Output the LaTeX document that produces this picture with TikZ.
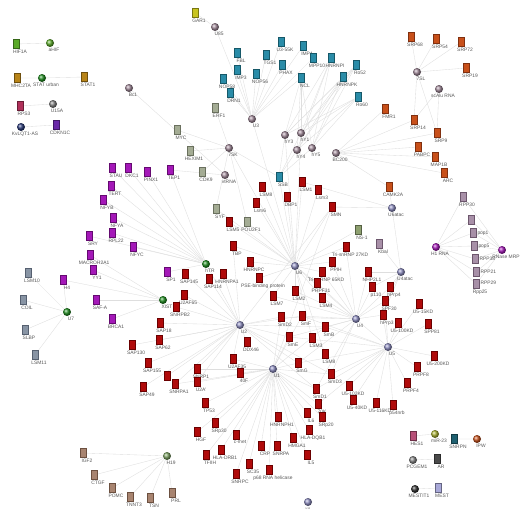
\documentclass[tikz,border=0pt]{standalone}
\usepackage{fontspec}
\setmainfont{Liberation Sans}
\usetikzlibrary{backgrounds}
\definecolor{cRed}{HTML}{B00A0A}\definecolor{cRedD}{HTML}{6A0000}
\definecolor{cCyan}{HTML}{2A8CA8}\definecolor{cCyanD}{HTML}{165868}
\definecolor{cMag}{HTML}{A418B8}\definecolor{cMagD}{HTML}{640A70}
\definecolor{cOra}{HTML}{C8501A}\definecolor{cOraD}{HTML}{803010}
\definecolor{cSage}{HTML}{A4AC94}\definecolor{cSageD}{HTML}{6A705E}
\definecolor{cSteel}{HTML}{8894A4}\definecolor{cSteelD}{HTML}{566070}
\definecolor{cMauve}{HTML}{A890A8}\definecolor{cMauveD}{HTML}{6C566C}
\definecolor{cBrown}{HTML}{A88470}\definecolor{cBrownD}{HTML}{6C5040}
\definecolor{cLav}{HTML}{8C8CC0}\definecolor{cPG}{HTML}{A08898}
\definecolor{cGreen}{HTML}{1E8C1E}\definecolor{cLGreen}{HTML}{5AAA28}
\definecolor{cGold}{HTML}{B88418}\definecolor{cCrim}{HTML}{B0305A}
\definecolor{cPurp}{HTML}{6A28A8}\definecolor{cNavy}{HTML}{283878}
\definecolor{cYel}{HTML}{C8C420}\definecolor{cOlive}{HTML}{A8B030}
\definecolor{cTeal}{HTML}{1E6070}\definecolor{cH19}{HTML}{7AA060}
\definecolor{cNS}{HTML}{8EA070}\definecolor{cHes}{HTML}{B85078}
\definecolor{cDark}{HTML}{4A4A4A}\definecolor{cMest}{HTML}{A8A8D8}
\definecolor{cGray}{HTML}{808080}\definecolor{cBlk}{HTML}{303030}
\tikzset{
 edge/.style={draw=black!13, line width=0.35pt},
 lbl/.style={font=\fontsize{4.9}{5.3}\selectfont, text=black!65, inner sep=0.3pt, xshift=4pt},
 lblr/.style={font=\fontsize{4.9}{5.3}\selectfont, text=black!65, inner sep=0.3pt},
 sqbase/.style={rectangle, minimum width=6.5pt, minimum height=9pt, inner sep=0pt, line width=0.3pt},
 cibase/.style={circle, minimum size=8pt, inner sep=0pt},
 rsq/.style={sqbase, fill=cRed, draw=cRedD},
 csq/.style={sqbase, fill=cCyan, draw=cCyanD},
 msq/.style={sqbase, fill=cMag, draw=cMagD},
 osq/.style={sqbase, fill=cOra, draw=cOraD},
 gsq/.style={sqbase, fill=cSage, draw=cSageD},
 ssq/.style={sqbase, fill=cSteel, draw=cSteelD},
 vsq/.style={sqbase, fill=cMauve, draw=cMauveD},
 bsq/.style={sqbase, fill=cBrown, draw=cBrownD},
 xsq/.style={sqbase, fill=#1, draw=#1!60!black},
 hub/.style={cibase, ball color=cLav},
 pgc/.style={cibase, ball color=cPG},
 xci/.style={cibase, ball color=#1},
 every label/.style={label distance=0.6pt}
}
\newcommand{\nd}[4]{\node[#1,label={[lbl]below:#4}] (#2) at (#3) {};}
\newcommand{\ndr}[4]{\node[#1,label={[lblr]right:#4}] (#2) at (#3) {};}
\begin{document}
\begin{tikzpicture}[x=1pt,y=-1pt]
\useasboundingbox (0,0) rectangle (531,514);
% isolated pairs
\nd{xsq=cLGreen}{hifa}{16,44}{HIF1A}
\nd{xci=cLGreen}{ahif}{50,43}{aHIF}
\nd{xsq=cGold}{mhc}{17,78}{MHC2TA}
\nd{xci=cGreen}{staturb}{42,78}{STAT urban}
\nd{xsq=cGold}{stat1}{84,77}{STAT1}
\nd{xsq=cCrim}{rps3}{20,106}{RPS3}
\nd{xci=cGray}{u15a}{53,104}{U15A}
\nd{xci=cNavy}{kvlqt}{21,127}{KvLQT1-AS}
\nd{xsq=cPurp}{cdkn}{56,125}{CDKN1C}
% top
\nd{xsq=cYel}{gar1}{195,13}{GAR1}
\nd{pgc}{u85}{215,27}{U85}
\nd{pgc}{bc1}{129,88}{Bc1}
% U3 group
\nd{pgc}{u3}{252,119}{U3}
\nd{csq}{fbl}{237,53}{FBL}
\nd{csq}{imp3}{237,70}{IMP3}
\nd{csq}{nop56}{256,74}{NOP56}
\nd{csq}{tgs1}{266,55}{TGS1}
\nd{csq}{u355k}{281,42}{U3-55K}
\nd{csq}{phax}{282,65}{PHAX}
\nd{csq}{imp4}{303,46}{IMP4}
\nd{csq}{mpp10}{313,58}{MPP10}
\nd{csq}{hnrnpi}{331,58}{HNRNPI}
\nd{csq}{ro52}{356,65}{Ro52}
\nd{csq}{hnrnpk}{343,77}{HNRNPK}
\nd{csq}{ro60}{358,97}{Ro60}
\nd{csq}{ncl}{301,78}{NCL}
\nd{csq}{nop58}{223,79}{NOP58}
\nd{csq}{drn1}{230,93}{DRN1}
\nd{gsq}{erf1}{215,108}{ERF1}
% hY
\nd{pgc}{hy3}{285,135}{hY3}
\nd{pgc}{hy1}{301,133}{hY1}
\nd{pgc}{hy4}{297,150}{hY4}
\nd{pgc}{hy5}{312,148}{hY5}
\nd{csq}{ssb}{279,177}{SSB}
% 7SK / vault
\nd{gsq}{myc}{177,130}{MYC}
\nd{gsq}{hexim}{190,151}{HEXIM1}
\nd{gsq}{cdk9}{202,172}{CDK9}
\nd{pgc}{sk7}{229,148}{7SK}
\nd{pgc}{vtrna}{225,175}{vtRNA}
\nd{msq}{tep1}{170,170}{TEP1}
% SRP
\nd{pgc}{sl7}{417,72}{7SL}
\nd{osq}{srp68}{411,37}{SRP68}
\nd{osq}{srp54}{436,39}{SRP54}
\nd{osq}{srp72}{461,42}{SRP72}
\nd{osq}{srp19}{466,68}{SRP19}
\nd{pgc}{alu}{439,89}{scAlu RNA}
\nd{osq}{fmr1}{385,109}{FMR1}
\nd{osq}{srp14}{414,120}{SRP14}
\nd{osq}{srp9}{437,133}{SRP9}
\nd{osq}{pabpc}{418,147}{PABPC}
\nd{osq}{map1b}{435,157}{MAP1B}
\nd{osq}{arc}{444,173}{ARC}
\nd{pgc}{bc200}{336,153}{BC200}
\nd{osq}{camk}{389,187}{CAMK2A}
\nd{hub}{u6atac}{392,208}{U6atac}
\nd{hub}{u4atac}{401,272}{U4atac}
\nd{xsq=cNS}{ns1}{358,230}{NS-1}
\nd{vsq}{kbal}{379,244}{Kbal}
% RNase P / MRP
\nd{vsq}{rpp30}{463,197}{RPP30}
\node[vsq] (rpp40) at (471,220) {};
\ndr{vsq}{pop1}{473,233}{pop1}
\ndr{vsq}{pop5}{474,246}{pop5}
\ndr{vsq}{rpp38}{475,259}{RPP38}
\ndr{vsq}{rpp21}{476,272}{RPP21}
\nd{vsq}{rpp29}{476,284}{Rpp25}
\node[lblr,anchor=west] (rpp29l) at (480,283) {RPP29};
\nd{xci=cMag}{h1rna}{436,247}{H1 RNA}
\nd{xci=cMag}{rmrp}{502,250}{RNase MRP}
% hTR / XIST
\nd{xci=cGreen}{terc}{206,264}{hTR}
\nd{msq}{stau}{112,168}{STAU}
\nd{msq}{dkc1}{128,168}{DKC1}
\nd{msq}{pinx1}{147,172}{PINX1}
\nd{msq}{tert}{111,186}{TERT}
\nd{msq}{nfyb}{103,200}{NFYB}
\nd{msq}{nfya}{113,218}{NFYA}
\nd{msq}{sry}{89,236}{SRY}
\nd{msq}{rpl22}{112,233}{RPL22}
\nd{msq}{nfyc}{133,247}{NFYC}
\nd{msq}{macro}{90,255}{MACROH2A1}
\nd{msq}{yy1}{93,270}{YY1}
\nd{msq}{sp1}{167,272}{SP1}
\nd{msq}{safa}{96,300}{SAF-A}
\nd{msq}{brca1}{112,319}{BRCA1}
\nd{msq}{h4}{63,280}{H4}
\nd{xci=cGreen}{xist}{163,300}{XIST}
% U7
\nd{xci=cGreen}{u7}{67,312}{U7}
\nd{ssq}{lsm10}{28,273}{LSM10}
\nd{ssq}{coil}{23,300}{COIL}
\nd{ssq}{slbp}{25,330}{SLBP}
\nd{ssq}{lsm11}{35,355}{LSM11}
% hubs
\nd{hub}{u1}{273,369}{U1}
\nd{hub}{u2}{240,325}{U2}
\nd{hub}{u6}{295,266}{U6}
\nd{hub}{u4}{356,319}{U4}
\nd{hub}{u5}{388,347}{U5}
\nd{xci=cH19}{h19}{167,456}{H19}
% red near U6
\nd{rsq}{lsma}{262,187}{LSM8}
\nd{rsq}{dbp1}{287,197}{DBP1}
\nd{rsq}{lsm1}{302,182}{LSM1}
\nd{rsq}{lsmb}{318,190}{Lsm3}
\nd{rsq}{smn}{332,207}{SMN}
\nd{rsq}{lsmc}{256,203}{Lsm6}
\nd{gsq}{syf}{216,209}{SYF}
\nd{rsq}{lsm5}{229,222}{LSM5}
\nd{gsq}{pou2f1}{247,222}{POU2F1}
\nd{rsq}{tbp}{233,246}{TBP}
\nd{rsq}{hnrnpc}{250,262}{HNRNPC}
\nd{rsq}{sap145}{185,274}{SAP145}
\nd{rsq}{sap114}{209,279}{SAP114}
\nd{rsq}{hnrnpa1}{223,274}{HNRNPA1}
\nd{rsq}{pse}{259,278}{PSE-binding protein}
\nd{rsq}{u2af65}{184,295}{U2AF65}
\nd{rsq}{snrpb2}{176,307}{SNRPB2}
\nd{rsq}{lsm7}{273,296}{LSM7}
\nd{rsq}{lsm2}{295,291}{LSM2}
\nd{rsq}{smd2}{281,317}{SmD2}
\nd{rsq}{smf}{302,316}{SmF}
\nd{rsq}{ddx46}{247,342}{DDX46}
\nd{rsq}{sme}{289,337}{SmE}
\nd{rsq}{lsm3}{312,338}{LSM3}
\nd{rsq}{lsm8}{325,354}{LSM8}
\nd{rsq}{smg}{298,363}{SmG}
\nd{rsq}{u2af35}{233,359}{U2AF35}
\nd{rsq}{ppih}{332,262}{PPIH}
\nd{rsq}{tri65}{322,272}{Tri-snRNP 65KD}
\nd{rsq}{prpf31}{317,283}{PRPF31}
\nd{rsq}{lsm4}{322,298}{LSM4}
\nd{rsq}{smb}{325,327}{SmB}
\nd{rsq}{sap18}{160,323}{SAP18}
\nd{rsq}{sap62}{159,340}{SAP62}
\nd{rsq}{sap130}{132,345}{SAP130}
\nd{rsq}{sap155}{148,363}{SAP155}
\node[rsq] (sapx) at (167,376) {};
\nd{rsq}{snrpa1}{175,384}{SNRPA1}
\nd{rsq}{sap49}{143,387}{SAP49}
\nd{rsq}{snrpb}{197,369}{SNRP1}
\nd{rsq}{u2a}{197,382}{U2A'}
\nd{rsq}{f40}{240,373}{40F}
% U4/U5
\nd{rsq}{tri27}{346,247}{Tri-snRNP 27KD}
\nd{rsq}{nhp}{368,272}{NHP2L1}
\nd{rsq}{p110}{372,287}{p110}
\nd{rsq}{hprp4}{390,287}{hPrp4}
\nd{rsq}{spf30}{385,301}{SPF30}
\nd{rsq}{hprp3}{383,315}{hPrp3}
\nd{rsq}{u5100}{398,323}{U5-100KD}
\nd{rsq}{u515}{419,304}{U5-15KD}
\nd{rsq}{spp81}{428,324}{SPP81}
\nd{rsq}{u5200}{434,356}{U5-200KD}
\nd{rsq}{prpf8}{417,367}{PRPF8}
\nd{rsq}{prpf4}{407,383}{PRPF4}
\nd{rsq}{u5102}{349,386}{U5-102KD}
\nd{rsq}{u540}{353,400}{U5-40KD}
\nd{rsq}{u5116}{376,403}{U5-116KD}
\nd{rsq}{p54}{393,405}{p54nrb}
% U1 bottom
\nd{rsq}{tp53}{205,403}{TP53}
\nd{rsq}{srp30}{215,423}{SRp30}
\nd{rsq}{hgf}{197,432}{HGF}
\nd{rsq}{cmet}{236,435}{c-met}
\nd{rsq}{tfiih}{206,455}{TFIIH}
\nd{rsq}{hladrb1}{221,450}{HLA-DRB1}
\nd{rsq}{sc35}{249,464}{SC35}
\nd{rsq}{snrpc}{236,474}{SNRPC}
\nd{rsq}{crp}{261,446}{CRP}
\nd{rsq}{snrpa}{277,446}{SNRPA}
\nd{rsq}{p68}{269,470}{p68 RNA helicase}
\nd{rsq}{hnrnph1}{278,417}{HNRNPH1}
\nd{rsq}{hmga1}{293,438}{HMGA1}
\nd{rsq}{il5}{307,455}{IL5}
\nd{rsq}{il6}{307,413}{IL6}
\nd{rsq}{hladqb1}{309,430}{HLA-DQB1}
\nd{rsq}{smd1}{316,389}{SmD1}
\nd{rsq}{k70}{318,404}{70K}
\nd{rsq}{srp20}{322,417}{SRp20}
\nd{rsq}{smd3}{331,374}{SmD3}
\node[xci=cLav,label={[lblr,font=\fontsize{2.5}{3}\selectfont]below:U12}] (u12) at (308,502) {};
% H19 partners
\nd{bsq}{igf2}{83,453}{IGF2}
\nd{bsq}{ctgf}{94,475}{CTGF}
\nd{bsq}{pomc}{112,488}{POMC}
\nd{bsq}{tnnt3}{130,497}{TNNT3}
\nd{bsq}{tsn}{150,498}{TSN}
\nd{bsq}{prl}{172,493}{PRL}
% bottom right pairs
\nd{xsq=cHes}{hes1}{413,436}{HES1}
\nd{xci=cOlive}{mir23}{435,434}{miR-23}
\nd{xsq=cTeal}{snrpn}{454,439}{SNRPN}
\nd{xci=cOra}{ipw}{477,439}{IPW}
\nd{xci=cGray}{pcgem}{413,460}{PCGEM1}
\nd{xsq=cDark}{ar}{437,459}{AR}
\nd{xci=cBlk}{mestit}{415,489}{MESTIT1}
\nd{xsq=cMest}{mest}{438,488}{MEST}

\begin{scope}[on background layer]
\fill[white] (0,0) rectangle (531,514);
\draw[edge] (hifa)--(ahif) (mhc)--(staturb)--(stat1) (rps3)--(u15a) (kvlqt)--(cdkn);
\draw[edge] (gar1)--(u85) (u85)--(u3) (bc1)--(vtrna);
\foreach \t in {fbl,imp3,nop56,tgs1,u355k,phax,imp4,mpp10,nop58,drn1,ncl} \draw[edge] (u3)--(\t);
\foreach \h in {hy1,hy3,hy4,hy5} {\foreach \t in {ro60,ro52,hnrnpk,hnrnpi,ncl,ssb} \draw[edge] (\h)--(\t);}
\foreach \t in {myc,hexim,cdk9,erf1,syf,pou2f1,ssb} \draw[edge] (sk7)--(\t);
\draw[edge] (vtrna)--(tep1);
\foreach \t in {srp68,srp54,srp72,srp19,srp14,srp9} \draw[edge] (sl7)--(\t);
\foreach \t in {srp14,srp9} \draw[edge] (alu)--(\t);
\foreach \t in {fmr1,srp14,srp9,pabpc,map1b,arc,camk} \draw[edge] (bc200)--(\t);
\foreach \t in {rpp30,rpp40,pop1,pop5,rpp38,rpp21,rpp29} {\draw[edge] (h1rna)--(\t); \draw[edge] (rmrp)--(\t);}
\foreach \t in {stau,dkc1,pinx1,tep1,tert,nfyb,nfya,rpl22,nfyc,sp1,sry} \draw[edge] (terc)--(\t);
\foreach \t in {yy1,safa,brca1,macro,h4} \draw[edge] (xist)--(\t);
\foreach \t in {lsm10,coil,slbp,lsm11,h4} \draw[edge] (u7)--(\t);
\foreach \t in {igf2,ctgf,pomc,tnnt3,tsn,prl} \draw[edge] (h19)--(\t);
\draw[edge] (hes1)--(mir23) (snrpn)--(ipw) (pcgem)--(ar) (mestit)--(mest);
\foreach \t in {sap145,sap114,hnrnpa1,u2af65,snrpb2,sap18,sap62,sap130,sap155,sapx,snrpa1,sap49,ddx46,u2af35,snrpb,u2a,tbp,smb,smd1,smd2,smd3,sme,smf,smg,smn,terc} \draw[edge] (u2)--(\t);
\foreach \t in {tp53,srp30,hgf,cmet,tfiih,hladrb1,sc35,snrpc,crp,snrpa,p68,hnrnph1,hmga1,il5,il6,hladqb1,smd1,k70,srp20,smd3,smg,sme,smf,smd2,smb,f40,snrpb,u2a,snrpa1,u2af35,smn} \draw[edge] (u1)--(\t);
\foreach \t in {lsma,dbp1,lsm1,lsmb,smn,lsmc,lsm5,tbp,hnrnpc,pse,lsm7,lsm2,lsm4,lsm3,lsm8,ppih,tri65,prpf31,tri27,syf,pou2f1,ssb,ns1,u4,sk7,u3,hy1,hy3} \draw[edge] (u6)--(\t);
\foreach \t in {tri27,tri65,prpf31,ppih,nhp,p110,hprp4,hprp3,spf30,lsm4,lsm2,lsm7,smb,smd1,smd2,smd3,sme,smf,smg,u5} \draw[edge] (u4)--(\t);
\foreach \t in {u5100,u540,u5116,u5200,u5102,prpf8,prpf4,u515,spp81,p54,spf30,hprp3,smb,smd3,sme,smg,smf,smd1,k70} \draw[edge] (u5)--(\t);
\foreach \t in {nhp,hprp4,hprp3,spf30,kbal,u6atac,p110} \draw[edge] (u4atac)--(\t);
\foreach \t in {lsm1,smn,camk} \draw[edge] (u6atac)--(\t);
\end{scope}
\end{tikzpicture}
\end{document}
